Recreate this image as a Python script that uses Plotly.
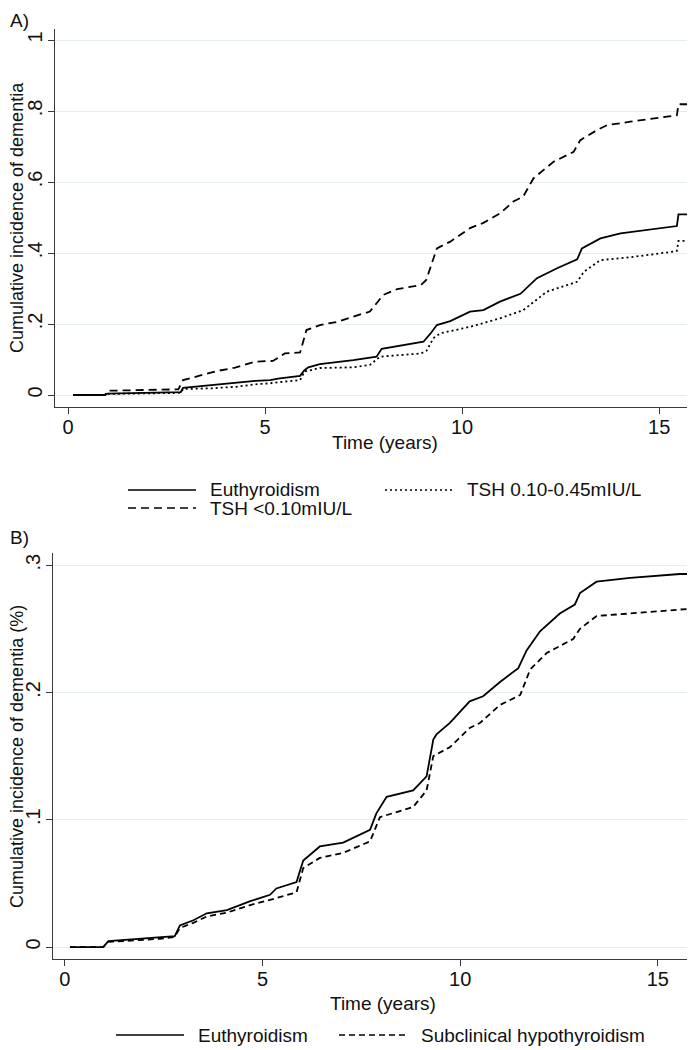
import plotly.graph_objects as go

# Panel A: cumulative incidence by TSH group
a_euthyroid_t = [0.13, 0.94, 1.0, 2.86, 2.92, 3.65, 4.24, 4.75, 5.13, 5.33, 5.89, 6.0, 6.1, 6.39, 7.24,
                 7.83, 7.96, 8.35, 9.02, 9.19, 9.36, 9.7, 10.2, 10.54, 10.96, 11.48, 11.9, 12.41, 12.92,
                 13.04, 13.51, 14.02, 14.69, 15.37, 15.45, 15.49, 15.91]
a_euthyroid_y = [0, 0, 0.004, 0.008, 0.02, 0.028, 0.033, 0.040, 0.042, 0.046, 0.054, 0.07, 0.078, 0.087,
                 0.098, 0.108, 0.13, 0.138, 0.15, 0.172, 0.197, 0.208, 0.235, 0.239, 0.263, 0.285, 0.329,
                 0.357, 0.382, 0.413, 0.441, 0.455, 0.465, 0.474, 0.476, 0.509, 0.509]

a_tsh_mid_t = [0.13, 0.94, 1.0, 2.86, 2.92, 3.65, 4.24, 4.75, 5.13, 5.33, 5.89, 6.0, 6.39, 7.24, 7.66,
               7.92, 8.96, 9.1, 9.27, 9.45, 10.2, 10.96, 11.55, 12.15, 12.92, 13.09, 13.51, 14.27, 15.37,
               15.45, 15.49, 15.91]
a_tsh_mid_y = [0, 0, 0.003, 0.006, 0.017, 0.019, 0.023, 0.030, 0.033, 0.036, 0.042, 0.066, 0.076, 0.078,
               0.085, 0.108, 0.117, 0.125, 0.16, 0.174, 0.192, 0.216, 0.239, 0.291, 0.319, 0.347, 0.380,
               0.388, 0.404, 0.406, 0.434, 0.434]

a_tsh_low_t = [0.13, 0.94, 1.0, 2.8, 2.92, 3.3, 3.8, 4.24, 4.75, 5.2, 5.5, 5.89, 6.05, 6.39, 6.83, 7.36,
               7.66, 8.0, 8.35, 8.96, 9.09, 9.36, 9.7, 10.2, 10.54, 10.97, 11.3, 11.55, 11.81, 12.07,
               12.32, 12.83, 13.0, 13.42, 13.68, 14.27, 14.86, 15.37, 15.45, 15.49, 15.91]
a_tsh_low_y = [0, 0, 0.012, 0.016, 0.042, 0.054, 0.068, 0.077, 0.094, 0.096, 0.117, 0.12, 0.183, 0.197,
               0.206, 0.225, 0.235, 0.282, 0.298, 0.31, 0.324, 0.413, 0.432, 0.47, 0.485, 0.512, 0.545,
               0.559, 0.61, 0.634, 0.657, 0.685, 0.718, 0.746, 0.76, 0.77, 0.779, 0.786, 0.788, 0.819, 0.819]

# Panel B: euthyroidism vs subclinical hypothyroidism
b_euthyroid_t = [0.13, 0.97, 1.1, 1.81, 2.4, 2.78, 2.91, 3.25, 3.59, 4.1, 4.69, 5.19, 5.35, 5.86, 6.03,
                 6.45, 7.04, 7.72, 7.88, 8.14, 8.81, 9.15, 9.32, 9.4, 9.74, 10.24, 10.58, 11.0, 11.47,
                 11.68, 12.02, 12.52, 12.9, 13.03, 13.45, 14.3, 15.56, 15.94]
b_euthyroid_y = [0, 0, 0.0047, 0.0063, 0.0073, 0.0086, 0.017, 0.021, 0.0265, 0.029, 0.036, 0.041, 0.046,
                 0.051, 0.068, 0.079, 0.082, 0.092, 0.105, 0.118, 0.123, 0.134, 0.163, 0.167, 0.176,
                 0.193, 0.197, 0.208, 0.219, 0.233, 0.248, 0.262, 0.269, 0.278, 0.287, 0.290, 0.293, 0.293]

b_subclin_t = [0.13, 0.97, 1.1, 1.81, 2.4, 2.78, 2.91, 3.25, 3.59, 4.1, 4.69, 5.19, 5.86, 6.03, 6.45,
               7.04, 7.72, 7.97, 8.81, 9.15, 9.32, 9.74, 10.24, 10.5, 11.0, 11.52, 11.77, 12.19, 12.86,
               13.03, 13.45, 14.3, 15.56, 15.94]
b_subclin_y = [0, 0, 0.004, 0.0055, 0.0065, 0.008, 0.015, 0.019, 0.024, 0.027, 0.033, 0.037, 0.043,
               0.062, 0.070, 0.074, 0.083, 0.102, 0.110, 0.123, 0.15, 0.157, 0.172, 0.176, 0.19, 0.198,
               0.218, 0.231, 0.242, 0.25, 0.26, 0.262, 0.265, 0.266]

x_ticks = [0, 5, 10, 15]
a_yticks = [0, 0.2, 0.4, 0.6, 0.8, 1]
a_ytext = ["0", ".2", ".4", ".6", ".8", "1"]
b_yticks = [0, 0.1, 0.2, 0.3]
b_ytext = ["0", ".1", ".2", ".3"]

FONT = "Liberation Sans, Arial, sans-serif"
# the page body has an 8px margin, so the figure sits at (8, 8) in the window
OFF = 8
W, H = 695 - OFF, 1050 - OFF


def px(x):
    return (x - OFF) / W


def py(y):
    return 1 - (y - OFF) / H


fig = go.Figure()

fig.add_trace(go.Scatter(x=a_euthyroid_t, y=a_euthyroid_y, mode="lines",
                         line=dict(color="black", width=1.8), xaxis="x", yaxis="y"))
fig.add_trace(go.Scatter(x=a_tsh_mid_t, y=a_tsh_mid_y, mode="lines",
                         line=dict(color="black", width=1.8, dash="2px,3px"), xaxis="x", yaxis="y"))
fig.add_trace(go.Scatter(x=a_tsh_low_t, y=a_tsh_low_y, mode="lines",
                         line=dict(color="black", width=1.8, dash="8px,5px"), xaxis="x", yaxis="y"))
fig.add_trace(go.Scatter(x=b_euthyroid_t, y=b_euthyroid_y, mode="lines",
                         line=dict(color="black", width=1.8), xaxis="x2", yaxis="y2"))
fig.add_trace(go.Scatter(x=b_subclin_t, y=b_subclin_y, mode="lines",
                         line=dict(color="black", width=1.8, dash="6px,4px"), xaxis="x2", yaxis="y2"))

axis_style = dict(showline=True, linecolor="#3a3a3a", linewidth=1.3, ticks="outside", ticklen=6,
                  tickcolor="#3a3a3a", tickwidth=1.2, zeroline=False,
                  tickfont=dict(family=FONT, size=20, color="#111"))
x_style = dict(showgrid=False, ticklabelstandoff=-4, **axis_style)
y_style = dict(tickangle=-90, showgrid=True, gridcolor="#e4eef0", gridwidth=1.2,
               ticklabelstandoff=-2, **axis_style)

fig.update_layout(
    width=W, height=H, showlegend=False,
    margin=dict(l=0, r=0, t=0, b=0),
    paper_bgcolor="white", plot_bgcolor="white",
    xaxis=dict(domain=[px(55), 1], anchor="y", range=[-0.33, 15.91], tickvals=x_ticks, **x_style),
    yaxis=dict(domain=[py(407), py(29)], anchor="x", range=[-0.0338, 1.031], tickvals=a_yticks,
               ticktext=a_ytext, **y_style),
    xaxis2=dict(domain=[px(53), 1], anchor="y2", range=[-0.30, 15.94], tickvals=x_ticks, **x_style),
    yaxis2=dict(domain=[py(959), py(553)], anchor="x2", range=[-0.0094, 0.3095], tickvals=b_yticks,
                ticktext=b_ytext, **y_style),
)

txt = dict(family=FONT, size=19, color="#111")
ann = [
    dict(x=px(8), y=py(8), text="A)", xanchor="left", yanchor="top"),
    dict(x=px(8), y=py(537), text="B)", xanchor="left"),
    dict(x=px(385), y=py(442), text="Time (years)"),
    dict(x=px(383), y=py(1003), text="Time (years)"),
    dict(x=px(17), y=py(218), text="Cumulative incidence of dementia", textangle=-90, size=18),
    dict(x=px(17), y=py(757), text="Cumulative incidence of dementia (%)", textangle=-90, size=18),
]

# legends drawn as key lines + labels, Stata style
legend_a = [("Euthyroidism", "solid", 128, 490), ("TSH 0.10-0.45mIU/L", "2px,3px", 385, 490),
            ("TSH <0.10mIU/L", "8px,5px", 128, 508)]
legend_b = [("Euthyroidism", "solid", 116, 1035), ("Subclinical hypothyroidism", "6px,4px", 339, 1035)]

shapes = []
for label, dash, x0, y0 in legend_a + legend_b:
    shapes.append(dict(type="line", xref="paper", yref="paper", x0=px(x0), x1=px(x0 + 68),
                       y0=py(y0), y1=py(y0), line=dict(color="black", width=1.7, dash=dash)))
    ann.append(dict(x=px(x0 + 80), y=py(y0), text=label, xanchor="left"))

for a in ann:
    size = a.pop("size", txt["size"])
    a.update(xref="paper", yref="paper", showarrow=False, font=dict(txt, size=size))
    a.setdefault("xanchor", "center")
    a.setdefault("yanchor", "middle")

fig.update_layout(annotations=ann, shapes=shapes)

fig.write_html("out.html")
